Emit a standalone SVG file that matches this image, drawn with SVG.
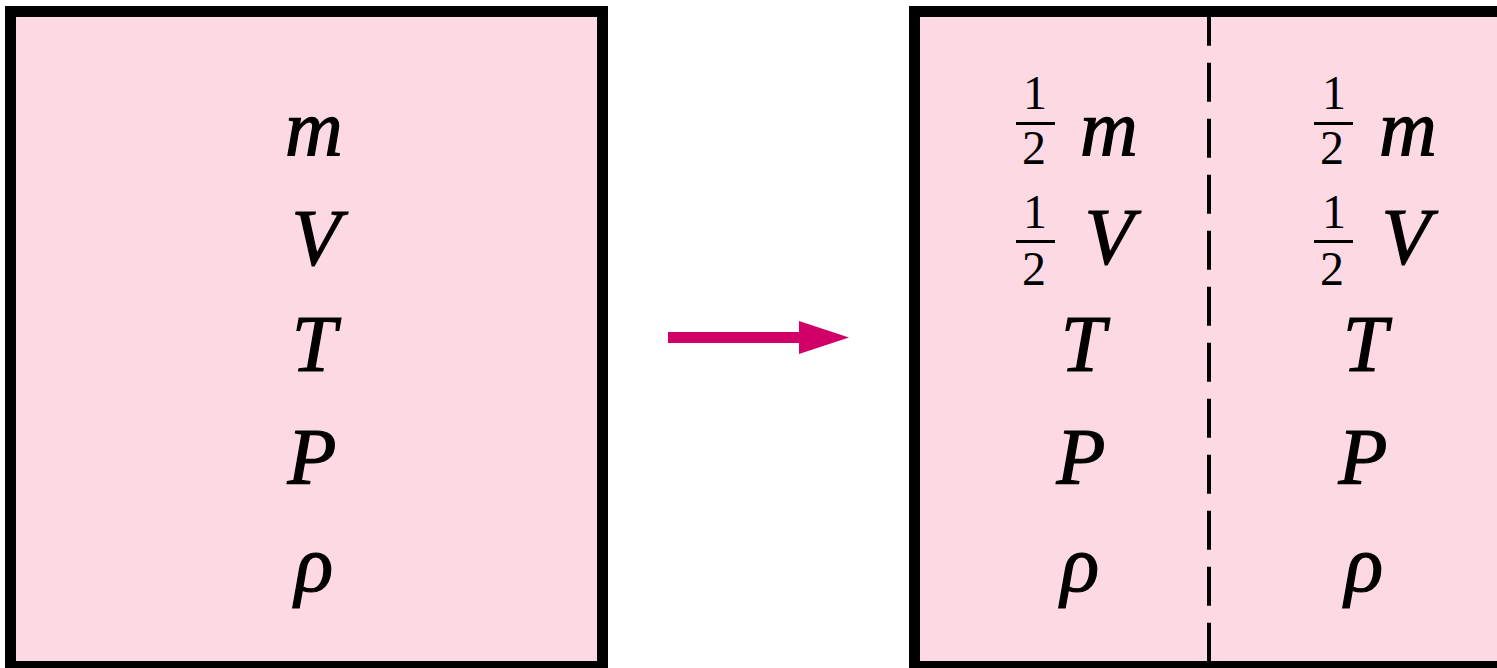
<svg xmlns="http://www.w3.org/2000/svg" width="1497" height="668" viewBox="0 0 1497 668">
<style>
.box{fill:#FDD9E3;stroke:#000;stroke-width:11}
.v{font-family:"Liberation Serif",serif;font-style:italic;font-size:80px;fill:#000;stroke:#000;stroke-width:1.2;text-anchor:middle}
.d{font-family:"Liberation Serif",serif;font-size:48px;fill:#000;text-anchor:middle}
.bar{fill:#000}
</style>
<rect width="1497" height="668" fill="#fff"/>
<g id="before">
<rect class="box" x="10.5" y="11.5" width="592" height="655"/>
<text class="v" x="314" y="155">m</text>
<text class="v" x="316" y="265">V</text>
<text class="v" x="314" y="371">T</text>
<text class="v" x="312" y="484">P</text>
<text class="v" x="314" y="591">ρ</text>
</g>
<g id="after">
<rect class="box" x="914.5" y="11.5" width="700" height="655"/>
<g id="left-half">
<text class="d" x="1035" y="109">1</text>
<rect class="bar" x="1016" y="122" width="39" height="3"/>
<text class="d" x="1034" y="164">2</text>
<text class="v" x="1109" y="155">m</text>
<text class="d" x="1035" y="228">1</text>
<rect class="bar" x="1016" y="240" width="39" height="3"/>
<text class="d" x="1034" y="285">2</text>
<text class="v" x="1109" y="264">V</text>
<text class="v" x="1083" y="371">T</text>
<text class="v" x="1081" y="484">P</text>
<text class="v" x="1080" y="591">ρ</text>
</g>
<g id="right-half">
<text class="d" x="1334" y="109">1</text>
<rect class="bar" x="1314" y="122" width="39" height="3"/>
<text class="d" x="1332" y="164">2</text>
<text class="v" x="1408" y="155">m</text>
<text class="d" x="1334" y="228">1</text>
<rect class="bar" x="1314" y="240" width="39" height="3"/>
<text class="d" x="1332" y="285">2</text>
<text class="v" x="1406" y="264">V</text>
<text class="v" x="1365" y="371">T</text>
<text class="v" x="1363" y="484">P</text>
<text class="v" x="1364" y="591">ρ</text>
</g>
</g>
<g id="connectors">
<line x1="1209" y1="6.7" x2="1209" y2="661" stroke="#000" stroke-width="4" stroke-dasharray="39 17"/>
<rect x="668" y="332" width="132" height="11" fill="#D10068"/>
<polygon points="799,321 849,337.5 799,354" fill="#D10068"/>
</g>
</svg>
